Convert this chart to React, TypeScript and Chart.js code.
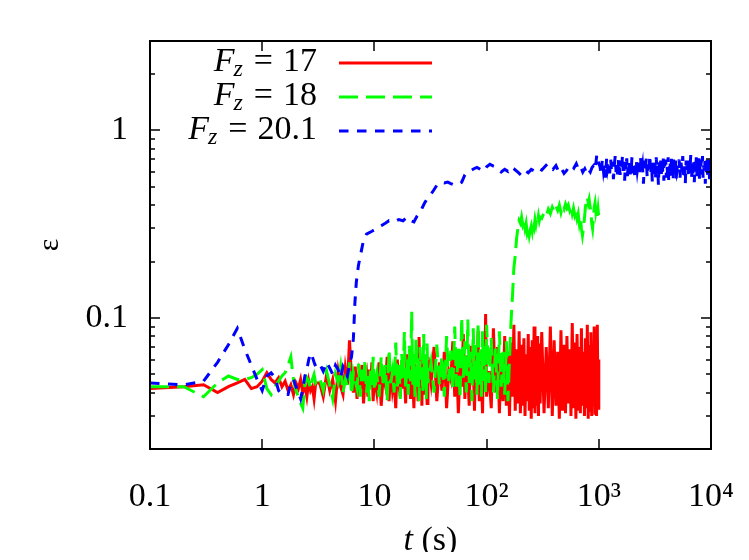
import React, { useEffect, useRef } from "react";
import { Chart, registerables } from "chart.js";

Chart.register(...registerables);

// time samples (s) shared by F_z = 17 and F_z = 18
const tRun = [
  0.1, 0.2, 0.3, 0.4, 0.5, 0.6, 0.7, 0.8, 0.9, 1,
  1.1, 1.2, 1.3, 1.4, 1.5, 1.6, 1.7, 1.8, 1.9, 2, 2.1, 2.2, 2.3, 2.4, 2.5, 2.6, 2.7, 2.8, 2.9, 3,
  3.25, 3.5, 3.75, 4, 4.25, 4.5, 4.75, 5, 5.25, 5.5, 5.75, 6, 6.25, 6.5, 6.75, 7, 7.25, 7.5, 7.75, 8,
  8.25, 8.5, 8.75, 9, 9.25, 9.5, 9.75, 10,
  10.5, 11, 11.5, 12, 12.5, 13, 13.5, 14, 14.5, 15, 15.5, 16, 16.5, 17, 17.5, 18, 18.5, 19, 19.5, 20,
  20.5, 21, 21.5, 22, 22.5, 23, 23.5, 24, 24.5, 25, 25.5, 26, 26.5, 27, 27.5, 28, 28.5, 29, 29.5, 30,
  32, 34, 36, 38, 40, 42, 44, 46, 48, 50, 52, 54, 56, 58, 60, 62, 64, 66, 68, 70,
  72, 74, 76, 78, 80, 82, 84, 86, 88, 90, 92, 94, 96, 98, 100,
  105, 110, 115, 120, 125, 130, 135, 140, 145, 150, 155, 160, 165, 170, 175, 180, 185, 190, 195, 200,
  205, 210, 215, 220, 225, 230, 235, 240, 245, 250, 255, 260, 265, 270, 275, 280, 285, 290, 295, 300,
  310, 325, 340, 355, 370, 385, 400, 415, 430, 445, 460, 475, 490, 505, 520, 535, 550, 565, 580, 595,
  610, 625, 640, 655, 670, 685, 700, 715, 730, 745, 760, 775, 790, 805, 820, 835, 850, 865, 880, 895,
  910, 925, 940, 955, 970, 985, 1000,
];

// epsilon for F_z = 17
const eps17 = [
  0.042, 0.043, 0.044, 0.040, 0.043, 0.045, 0.047, 0.042, 0.043, 0.046,
  0.051, 0.047, 0.045, 0.048, 0.043, 0.046, 0.041, 0.044, 0.039, 0.045,
  0.042, 0.047, 0.040, 0.044, 0.038, 0.046, 0.041, 0.043, 0.037, 0.045,
  0.045, 0.038, 0.050, 0.041, 0.047, 0.036, 0.052, 0.043, 0.039, 0.054,
  0.044, 0.076, 0.048, 0.040, 0.055, 0.037, 0.049, 0.042, 0.056, 0.035,
  0.047, 0.051, 0.038, 0.053, 0.043, 0.058, 0.036, 0.049,
  0.040, 0.058, 0.034, 0.050, 0.044, 0.062, 0.036, 0.053, 0.041, 0.047,
  0.033, 0.060, 0.045, 0.038, 0.055, 0.042, 0.049, 0.035, 0.064, 0.040,
  0.052, 0.037, 0.058, 0.046, 0.033, 0.057, 0.043, 0.050, 0.036, 0.079,
  0.041, 0.054, 0.034, 0.060, 0.047, 0.039, 0.056, 0.044, 0.035, 0.062,
  0.045, 0.070, 0.036, 0.058, 0.041, 0.066, 0.033, 0.052, 0.047, 0.075,
  0.038, 0.060, 0.031, 0.055, 0.043, 0.082, 0.037, 0.063, 0.048, 0.034,
  0.071, 0.044, 0.057, 0.032, 0.068, 0.040, 0.085, 0.036, 0.059, 0.046,
  0.031, 0.074, 0.042, 0.105, 0.038,
  0.052, 0.033, 0.088, 0.040, 0.070, 0.031, 0.062, 0.036, 0.080, 0.034,
  0.066, 0.030, 0.074, 0.038, 0.092, 0.032, 0.068, 0.035, 0.085, 0.031,
  0.072, 0.034, 0.078, 0.030, 0.064, 0.036, 0.082, 0.032, 0.070, 0.029,
  0.076, 0.033, 0.090, 0.031, 0.066, 0.034, 0.080, 0.030, 0.073, 0.035,
  0.084, 0.031, 0.070, 0.033, 0.090, 0.030, 0.076, 0.034, 0.066, 0.029,
  0.086, 0.032, 0.072, 0.031, 0.080, 0.035, 0.068, 0.030, 0.094, 0.033,
  0.074, 0.029, 0.082, 0.032, 0.070, 0.031, 0.088, 0.034, 0.066, 0.030,
  0.078, 0.033, 0.092, 0.029, 0.072, 0.032, 0.084, 0.030, 0.068, 0.034,
  0.090, 0.031, 0.076, 0.030, 0.092, 0.033, 0.060,
];

// epsilon for F_z = 18
const eps18 = [
  0.043, 0.043, 0.038, 0.045, 0.049, 0.047, 0.047, 0.048, 0.050, 0.053,
  0.042, 0.039, 0.043, 0.046, 0.049, 0.051, 0.056, 0.062, 0.047, 0.041,
  0.038, 0.035, 0.033, 0.044, 0.048, 0.046, 0.042, 0.047, 0.050, 0.045,
  0.048, 0.041, 0.052, 0.044, 0.037, 0.050, 0.045, 0.055, 0.040, 0.047,
  0.043, 0.058, 0.039, 0.051, 0.046, 0.042, 0.057, 0.038, 0.053, 0.045,
  0.060, 0.040, 0.049, 0.036, 0.055, 0.044, 0.062, 0.041,
  0.050, 0.038, 0.062, 0.043, 0.056, 0.036, 0.068, 0.045, 0.052, 0.040,
  0.074, 0.042, 0.058, 0.037, 0.065, 0.047, 0.084, 0.041, 0.060, 0.039,
  0.071, 0.046, 0.108, 0.044, 0.066, 0.038, 0.078, 0.043, 0.061, 0.036,
  0.070, 0.048, 0.057, 0.040, 0.082, 0.042, 0.064, 0.037, 0.073, 0.045,
  0.058, 0.040, 0.072, 0.044, 0.063, 0.038, 0.080, 0.046, 0.067, 0.041,
  0.090, 0.043, 0.070, 0.037, 0.101, 0.048, 0.075, 0.040, 0.098, 0.045,
  0.066, 0.036, 0.088, 0.047, 0.072, 0.039, 0.094, 0.044, 0.068, 0.038,
  0.085, 0.046, 0.074, 0.040, 0.092,
  0.045, 0.078, 0.040, 0.070, 0.037, 0.085, 0.043, 0.066, 0.039, 0.075,
  0.036, 0.060, 0.095, 0.130, 0.185, 0.215, 0.265, 0.300, 0.330, 0.320,
  0.345, 0.315, 0.330, 0.300, 0.320, 0.285, 0.300, 0.275, 0.295, 0.310,
  0.290, 0.320, 0.305, 0.335, 0.315, 0.340, 0.325, 0.350, 0.330, 0.345,
  0.340, 0.365, 0.350, 0.380, 0.360, 0.390, 0.370, 0.395, 0.375, 0.400,
  0.365, 0.395, 0.380, 0.405, 0.385, 0.400, 0.375, 0.395, 0.360, 0.385,
  0.355, 0.375, 0.340, 0.360, 0.320, 0.345, 0.300, 0.275, 0.300, 0.340,
  0.390, 0.420, 0.440, 0.410, 0.430, 0.395, 0.370, 0.320, 0.300, 0.340,
  0.390, 0.410, 0.370, 0.395, 0.350, 0.380, 0.345,
];

// time samples (s) for F_z = 20.1
const tRun201 = [
  0.1, 0.2, 0.3, 0.4, 0.5, 0.6, 0.7, 0.8, 0.9, 1,
  1.1, 1.2, 1.3, 1.4, 1.5, 1.6, 1.7, 1.8, 1.9, 2, 2.1, 2.2, 2.3, 2.4, 2.5, 2.6, 2.7, 2.8, 2.9, 3,
  3.25, 3.5, 3.75, 4, 4.25, 4.5, 4.75, 5, 5.25, 5.5, 5.75, 6, 6.25,
  6.5, 6.7, 6.9, 7.2, 7.5, 8, 8.5, 9.5, 10.5, 11.5, 12.5, 13.5, 15, 16.5, 18, 19.5, 21, 22.5, 24, 26,
  28, 30, 33, 36, 39, 42, 45, 48, 52, 56, 60, 64, 68, 72, 77, 82, 88, 94, 100, 107, 115, 124,
  135, 145, 155, 165, 175, 190, 205, 220, 235, 250, 270, 290, 310, 330, 350, 370, 390, 415, 440, 465,
  490, 515, 540, 570, 600, 630, 660, 690, 720, 750, 780, 810, 840, 870, 900, 930, 960, 990,
  1025, 1050, 1075, 1100, 1125, 1150, 1175, 1200, 1225, 1250, 1275, 1300, 1325, 1350, 1375, 1400,
  1425, 1450, 1475, 1500, 1525, 1550, 1575, 1600, 1625, 1650, 1675, 1700, 1725, 1750, 1775, 1800,
  1825, 1850, 1875, 1900, 1925, 1950, 1975, 2000,
  2050, 2100, 2150, 2200, 2250, 2300, 2350, 2400, 2450, 2500, 2550, 2600, 2650, 2700, 2750, 2800,
  2850, 2900, 2950, 3000, 3050, 3100, 3150, 3200, 3250, 3300, 3350, 3400, 3450, 3500, 3550, 3600,
  3650, 3700, 3750, 3800, 3850, 3900, 3950, 4000, 4050, 4100, 4150, 4200, 4250, 4300, 4350, 4400,
  4450, 4500, 4550, 4600, 4650, 4700, 4750, 4800, 4850, 4900, 4950, 5000,
  5100, 5200, 5300, 5400, 5500, 5600, 5700, 5800, 5900, 6000, 6100, 6200, 6300, 6400, 6500, 6600,
  6700, 6800, 6900, 7000, 7100, 7200, 7300, 7400, 7500, 7600, 7700, 7800, 7900, 8000, 8100, 8200,
  8300, 8400, 8500, 8600, 8700, 8800, 8900, 9000, 9100, 9200, 9300, 9400, 9500, 9600, 9700, 9800,
  9900, 10000,
];

// epsilon for F_z = 20.1
const eps201 = [
  0.045, 0.044, 0.046, 0.058, 0.072, 0.088, 0.068, 0.056, 0.047, 0.041,
  0.049, 0.051, 0.048, 0.041, 0.039, 0.039, 0.039, 0.045, 0.047, 0.043,
  0.040, 0.037, 0.042, 0.049, 0.053, 0.060, 0.065, 0.062, 0.058, 0.055,
  0.057, 0.052, 0.058, 0.054, 0.050, 0.056, 0.053, 0.048, 0.055, 0.052, 0.049, 0.057, 0.062,
  0.078, 0.12, 0.155, 0.19, 0.215, 0.26, 0.28, 0.29, 0.30, 0.31, 0.32, 0.33, 0.325, 0.335, 0.33,
  0.345, 0.33, 0.325, 0.35, 0.375, 0.41, 0.44, 0.47, 0.51, 0.53, 0.525, 0.53, 0.52, 0.51, 0.515,
  0.53, 0.58, 0.60, 0.61, 0.625, 0.635, 0.62, 0.605, 0.64, 0.66, 0.645, 0.635,
  0.60, 0.62, 0.605, 0.64, 0.625, 0.60, 0.575, 0.61, 0.595, 0.62,
  0.605, 0.63, 0.615, 0.64, 0.665, 0.635, 0.62, 0.65, 0.60, 0.625,
  0.59, 0.61, 0.64, 0.655, 0.63, 0.665, 0.62, 0.64, 0.60, 0.625,
  0.59, 0.62, 0.60, 0.635, 0.65, 0.62, 0.745, 0.68,
  0.64, 0.58, 0.70, 0.61, 0.67, 0.56, 0.72, 0.62, 0.66, 0.59,
  0.71, 0.60, 0.68, 0.55, 0.65, 0.73, 0.60, 0.67, 0.57, 0.70,
  0.63, 0.58, 0.69, 0.61, 0.74, 0.59, 0.66, 0.54, 0.68, 0.62,
  0.71, 0.57, 0.65, 0.60, 0.70, 0.56, 0.67, 0.63, 0.72, 0.59,
  0.66, 0.55, 0.70, 0.61, 0.68, 0.57, 0.73, 0.60, 0.65, 0.52,
  0.69, 0.62, 0.71, 0.56, 0.66, 0.60, 0.74, 0.58, 0.67, 0.53,
  0.70, 0.61, 0.68, 0.55, 0.72, 0.59, 0.65, 0.51, 0.69, 0.63,
  0.71, 0.57, 0.66, 0.60, 0.73, 0.54, 0.68, 0.62, 0.70, 0.56,
  0.65, 0.59, 0.72, 0.53, 0.67, 0.61, 0.69, 0.57, 0.74, 0.60,
  0.66, 0.55, 0.70, 0.62, 0.68, 0.58, 0.71, 0.54, 0.67, 0.60,
  0.63, 0.70, 0.56, 0.68, 0.61, 0.73, 0.58, 0.66, 0.52, 0.69,
  0.60, 0.71, 0.57, 0.67, 0.62, 0.74, 0.55, 0.65, 0.59, 0.70,
  0.53, 0.68, 0.61, 0.72, 0.57, 0.66, 0.60, 0.71, 0.54, 0.67,
  0.63, 0.70, 0.58, 0.73, 0.56, 0.65, 0.61, 0.69, 0.52, 0.68,
  0.60, 0.72, 0.57, 0.66, 0.62, 0.70, 0.55, 0.67, 0.61, 0.64,
];

const legendValues = ["17", "18", "20.1"];
const seriesColors = ["#ff0000", "#00ff00", "#0000ff"];
const seriesDashes: number[][] = [[], [19, 8], [9.5, 8.5]];

const xTickValues = [0.1, 1, 10, 100, 1000, 10000];
const xTickLabels = ["0.1", "1", "10", "10²", "10³", "10⁴"];
const yTickValues = [0.1, 1];
const yTickLabels = ["0.1", "1"];
const yMinorTicks = [
  0.03, 0.04, 0.05, 0.06, 0.07, 0.08, 0.09,
  0.2, 0.3, 0.4, 0.5, 0.6, 0.7, 0.8, 0.9, 2, 3,
];

const FONT = '"Liberation Serif", "DejaVu Serif", serif';
const FONT_SIZE = 34;
const CANVAS_W = 733;
const CANVAS_H = 544;

const framePlugin = {
  id: "frameAndLegend",
  afterDraw(chart: any) {
    const { ctx, chartArea: a, scales } = chart;
    const xs = scales.x;
    const ys = scales.y;
    ctx.save();
    ctx.strokeStyle = "#000";
    ctx.setLineDash([]);

    // inside ticks
    ctx.lineWidth = 1.5;
    ctx.beginPath();
    for (const v of xTickValues) {
      const px = Math.round(xs.getPixelForValue(v));
      ctx.moveTo(px, a.bottom);
      ctx.lineTo(px, a.bottom - 10);
      ctx.moveTo(px, a.top);
      ctx.lineTo(px, a.top + 10);
    }
    for (const v of yTickValues) {
      const py = Math.round(ys.getPixelForValue(v));
      ctx.moveTo(a.left, py);
      ctx.lineTo(a.left + 10, py);
      ctx.moveTo(a.right, py);
      ctx.lineTo(a.right - 10, py);
    }
    for (const v of yMinorTicks) {
      const py = Math.round(ys.getPixelForValue(v));
      ctx.moveTo(a.left, py);
      ctx.lineTo(a.left + 5, py);
      ctx.moveTo(a.right, py);
      ctx.lineTo(a.right - 5, py);
    }
    ctx.stroke();

    // frame
    ctx.lineWidth = 2;
    ctx.strokeRect(a.left, a.top, a.right - a.left, a.bottom - a.top);

    // legend
    const fI = `italic ${FONT_SIZE}px ${FONT}`;
    const fS = `italic ${Math.round(FONT_SIZE * 0.7)}px ${FONT}`;
    const fR = `${FONT_SIZE}px ${FONT}`;
    ctx.textBaseline = "middle";
    ctx.textAlign = "left";
    chart.data.datasets.forEach((ds: any, i: number) => {
      const y = a.top + 22 + i * 34;
      const val = legendValues[i];
      ctx.font = fR;
      const wv = ctx.measureText(val).width;
      const weq = ctx.measureText("=").width;
      ctx.font = fS;
      const wz = ctx.measureText("z").width;
      ctx.font = fI;
      const wF = ctx.measureText("F").width;
      const xv = a.left + 167 - wv;
      const xeq = xv - 10 - weq;
      const xz = xeq - 11 - wz;
      const xF = xz - wF + 1;
      ctx.fillStyle = "#000";
      ctx.font = fI;
      ctx.fillText("F", xF, y - 1);
      ctx.font = fS;
      ctx.fillText("z", xz, y + 7);
      ctx.font = fR;
      ctx.fillText("=", xeq, y - 1);
      ctx.fillText(val, xv, y - 1);

      ctx.strokeStyle = ds.borderColor;
      ctx.lineWidth = 3;
      ctx.setLineDash(ds.borderDash || []);
      ctx.beginPath();
      ctx.moveTo(a.left + 189, y);
      ctx.lineTo(a.left + 282, y);
      ctx.stroke();
    });
    ctx.setLineDash([]);

    // x axis title: italic t + " (s)"
    const tx = (a.left + a.right) / 2;
    const ty = a.bottom + 92;
    ctx.fillStyle = "#000";
    ctx.font = fI;
    const wt = ctx.measureText("t").width;
    ctx.font = fR;
    const ws = ctx.measureText(" (s)").width;
    let sx = tx - (wt + ws) / 2;
    ctx.font = fI;
    ctx.fillText("t", sx, ty);
    sx += wt;
    ctx.font = fR;
    ctx.fillText(" (s)", sx, ty);
    ctx.restore();
  },
};

export default function App() {
  const canvasRef = useRef<HTMLCanvasElement | null>(null);

  useEffect(() => {
    const canvas = canvasRef.current;
    if (!canvas) return;
    const mk = (ts: number[], es: number[]) => ts.map((t, i) => ({ x: t, y: es[i] }));
    const common = {
      borderWidth: 3,
      pointRadius: 0,
      fill: false,
      tension: 0,
    };
    const chart = new Chart(canvas, {
      type: "line",
      data: {
        datasets: [
          {
            ...common,
            label: "F_z = " + legendValues[0],
            data: mk(tRun, eps17),
            borderColor: seriesColors[0],
            borderDash: seriesDashes[0],
            order: 3,
          },
          {
            ...common,
            label: "F_z = " + legendValues[1],
            data: mk(tRun, eps18),
            borderColor: seriesColors[1],
            borderDash: seriesDashes[1],
            order: 2,
          },
          {
            ...common,
            label: "F_z = " + legendValues[2],
            data: mk(tRun201, eps201),
            borderColor: seriesColors[2],
            borderDash: seriesDashes[2],
            order: 1,
          },
        ],
      },
      options: {
        animation: false,
        responsive: false,
        devicePixelRatio: 1,
        layout: { padding: { left: 0, right: 30, top: 33, bottom: 0 } },
        plugins: {
          legend: { display: false },
          tooltip: { enabled: false },
        },
        scales: {
          x: {
            type: "logarithmic",
            min: 0.1,
            max: 10000,
            grid: { display: false, drawTicks: false },
            border: { display: false },
            afterBuildTicks: (scale: any) => {
              scale.ticks = xTickValues.map((v) => ({ value: v }));
            },
            afterFit: (scale: any) => {
              scale.height = 103;
              scale.paddingLeft = 0;
              scale.paddingRight = 0;
              scale.paddingTop = 0;
              scale.paddingBottom = 0;
            },
            ticks: {
              autoSkip: false,
              maxRotation: 0,
              padding: 28,
              color: "#000",
              font: { family: FONT, size: FONT_SIZE },
              callback: (_v: any, i: number) => xTickLabels[i],
            },
          },
          y: {
            type: "logarithmic",
            min: 0.02,
            max: 3,
            grid: { display: false, drawTicks: false },
            border: { display: false },
            afterBuildTicks: (scale: any) => {
              scale.ticks = yTickValues.map((v) => ({ value: v }));
            },
            afterFit: (scale: any) => {
              scale.width = 142;
              scale.paddingLeft = 0;
              scale.paddingRight = 0;
              scale.paddingTop = 0;
              scale.paddingBottom = 0;
            },
            ticks: {
              autoSkip: false,
              padding: 22,
              color: "#000",
              font: { family: FONT, size: FONT_SIZE },
              callback: (_v: any, i: number) => yTickLabels[i],
            },
            title: {
              display: true,
              text: "ε",
              color: "#000",
              font: { family: FONT, size: 30 },
              padding: { top: 24, bottom: 0 },
            },
          },
        },
      },
      plugins: [framePlugin],
    });
    return () => chart.destroy();
  }, []);

  return (
    <div style={{ width: CANVAS_W, height: CANVAS_H, position: "relative" }}>
      <canvas ref={canvasRef} width={CANVAS_W} height={CANVAS_H} />
    </div>
  );
}
